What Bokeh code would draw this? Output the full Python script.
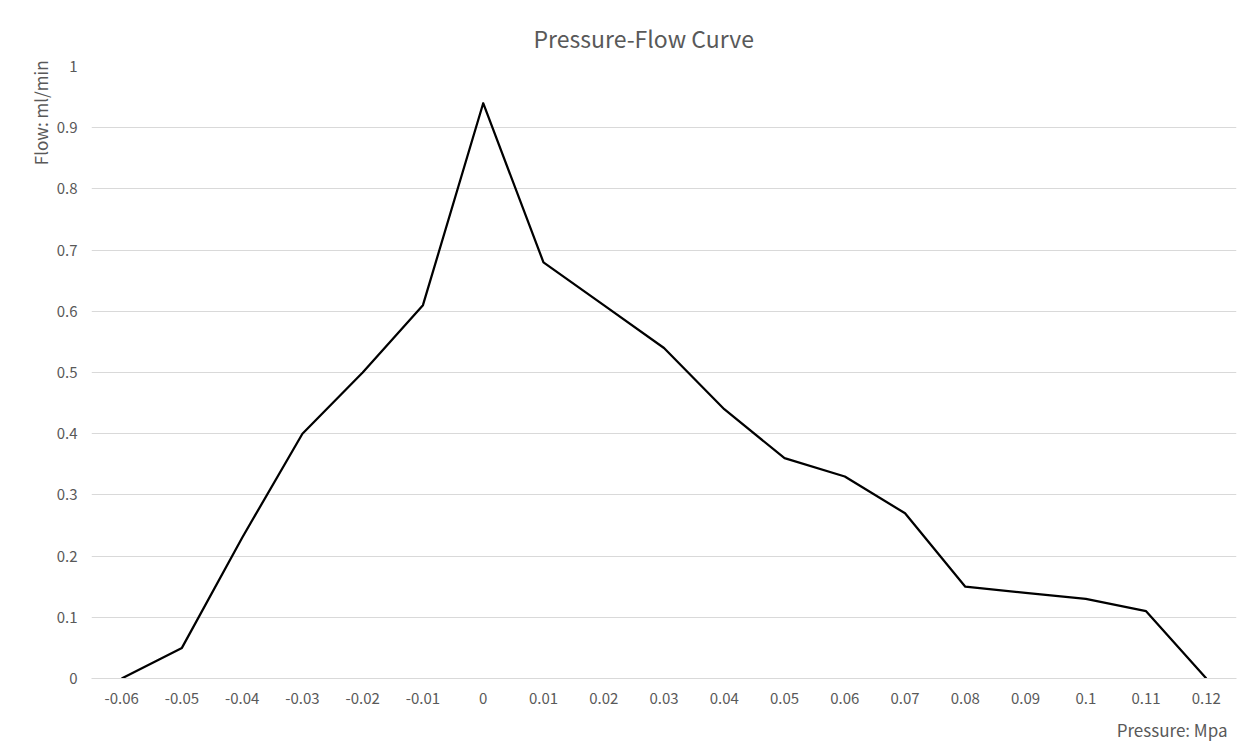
from bokeh.plotting import figure
from bokeh.models import FactorRange, Range1d, FixedTicker, Title
from bokeh.embed import file_html
from bokeh.resources import INLINE

pressure = ["-0.06", "-0.05", "-0.04", "-0.03", "-0.02", "-0.01", "0", "0.01", "0.02",
            "0.03", "0.04", "0.05", "0.06", "0.07", "0.08", "0.09", "0.1", "0.11", "0.12"]
flow = [0.0, 0.05, 0.23, 0.40, 0.50, 0.61, 0.94, 0.68, 0.61, 0.54, 0.44, 0.36, 0.33,
        0.27, 0.15, 0.14, 0.13, 0.11, 0.0]
y_ticks = [0, 0.1, 0.2, 0.3, 0.4, 0.5, 0.6, 0.7, 0.8, 0.9, 1.0]
y_tick_labels = ["0", "0.1", "0.2", "0.3", "0.4", "0.5", "0.6", "0.7", "0.8", "0.9", "1"]

FONT = "Noto Sans CJK SC"
GREY = "#595959"

p = figure(frame_width=1145, frame_height=612,
           x_range=FactorRange(factors=pressure, range_padding=0),
           y_range=Range1d(0, 1), output_backend="svg", toolbar_location=None,
           min_border_left=91, min_border_right=9, min_border_top=66, min_border_bottom=69)
p.outline_line_color = None
p.background_fill_color = "white"
p.border_fill_color = "white"

p.line(x=pressure, y=flow, line_color="black", line_width=2.25, line_join="round")

# Title
t = Title(text="Pressure-Flow Curve", align="left", offset=442, vertical_align="top",
          text_font=FONT, text_font_size="23px", text_font_style="normal",
          text_color=GREY, standoff=20)
p.add_layout(t, "above")

# axes
p.xgrid.grid_line_color = None
p.ygrid.grid_line_color = "#d9d9d9"
p.ygrid.grid_line_width = 1
p.yaxis.ticker = FixedTicker(ticks=y_ticks)
p.yaxis.major_label_overrides = {v: s for v, s in zip(y_ticks, y_tick_labels)}
for ax in (p.xaxis[0], p.yaxis[0]):
    ax.major_tick_line_color = None
    ax.minor_tick_line_color = None
    ax.major_label_text_font = FONT
    ax.major_label_text_font_size = "15px"
    ax.major_label_text_color = GREY
p.yaxis.axis_line_color = None
p.xaxis.axis_line_color = "#d9d9d9"
p.yaxis.major_label_standoff = 8
p.xaxis.major_label_standoff = 8

ylab = Title(text="Flow: ml/min", align="right", offset=-6, text_font=FONT, text_font_size="17px",
             text_font_style="normal", text_color=GREY, standoff=2)
p.add_layout(ylab, "left")
xlab = Title(text="Pressure: Mpa", align="right", offset=9, text_font=FONT, text_font_size="17px",
             text_font_style="normal", text_color=GREY, standoff=17)
p.add_layout(xlab, "below")

open("out.html", "w").write(file_html(p, INLINE))
